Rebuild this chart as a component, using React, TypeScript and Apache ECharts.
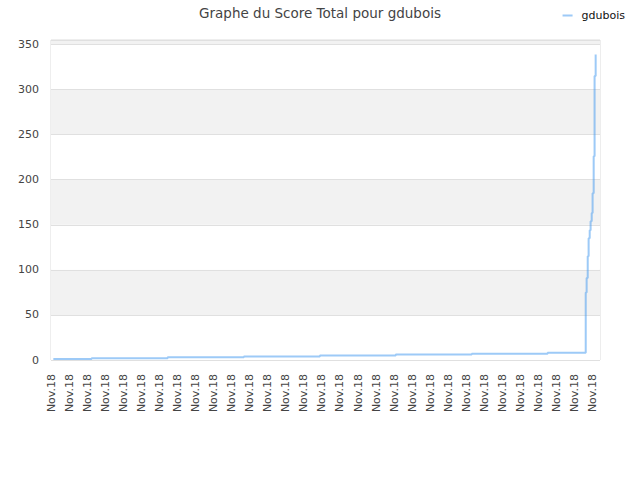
import React, { useEffect, useRef } from "react";
import * as echarts from "echarts";

// x positions on the time scale (1 tick label every 10 units), and total score
const xPositions = [1.3, 22.5, 64.6, 106.8, 148.9, 190.9, 233, 275, 296.1, 296.6, 297.2, 297.7, 298.3, 298.8, 299.4, 299.9, 300.5, 301.0, 301.6];
const scores = [1, 2, 3, 4, 5, 6, 7, 8, 75, 91, 115, 135, 144, 154, 163, 185, 226, 315, 339];
const tickLabel = "Nov.18";
const seriesName = "gdubois";

const App: React.FC = () => {
    const chartRef = useRef<HTMLDivElement>(null);

    useEffect(() => {
        if (!chartRef.current) return;
        const chart = echarts.init(chartRef.current, undefined, { renderer: "svg" });

        const font = "DejaVu Sans";
        chart.setOption({
            animation: false,
            textStyle: { fontFamily: font },
            title: {
                text: "Graphe du Score Total pour " + seriesName,
                left: "center",
                top: 1,
                textStyle: { fontFamily: font, fontSize: 13.5, fontWeight: "normal", color: "#444" }
            },
            legend: {
                right: 10,
                top: 5,
                icon: "rect",
                itemWidth: 10,
                itemHeight: 2,
                itemGap: 8,
                textStyle: { fontFamily: font, fontSize: 11, color: "#111", padding: [0, 0, 0, 4] },
                data: [seriesName]
            },
            grid: {
                left: 51,
                right: 40,
                top: 40,
                bottom: 120,
                show: true,
                borderColor: "#dcdcdc",
                borderWidth: 1,
                backgroundColor: "transparent"
            },
            xAxis: {
                type: "value",
                min: 0,
                max: 304,
                interval: 10,
                axisLine: { show: false },
                axisTick: { show: false },
                splitLine: { show: false },
                axisLabel: {
                    rotate: 90,
                    fontSize: 11,
                    color: "#444",
                    margin: 14,
                    showMaxLabel: false,
                    formatter: (v: number) => (v % 10 === 0 ? tickLabel : "")
                }
            },
            yAxis: {
                type: "value",
                min: 0,
                max: 355,
                interval: 50,
                axisLine: { show: false },
                axisTick: { show: false },
                splitLine: { show: true, lineStyle: { color: "#e0e0e0" } },
                splitArea: { show: true, areaStyle: { color: ["#ffffff", "#f2f2f2"] } },
                axisLabel: {
                    fontSize: 11,
                    color: "#444",
                    margin: 12,
                    formatter: (v: number) => (v % 50 === 0 ? String(v) : "")
                }
            },
            series: [
                {
                    name: seriesName,
                    type: "line",
                    step: "end",
                    showSymbol: false,
                    lineStyle: { width: 2, color: "rgba(60,150,240,0.5)" },
                    itemStyle: { color: "rgba(60,150,240,0.5)" },
                    data: xPositions.map((x, i) => [x, scores[i]])
                }
            ]
        });

        const handleResize = () => chart.resize();
        window.addEventListener("resize", handleResize);
        return () => {
            window.removeEventListener("resize", handleResize);
            chart.dispose();
        };
    }, []);

    return (
        <div
            ref={chartRef}
            style={{ position: "absolute", left: 0, top: 0, width: "640px", height: "480px" }}
        />
    );
};

export default App;
